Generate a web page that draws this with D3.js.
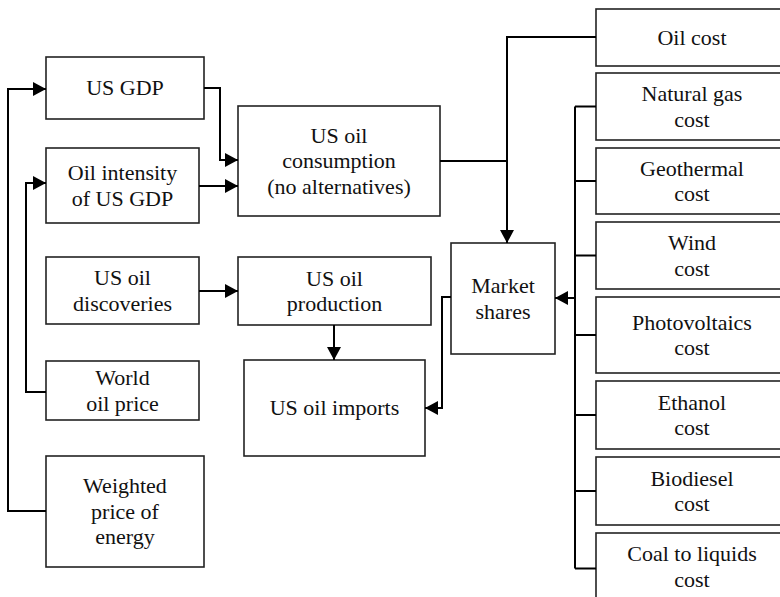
<!DOCTYPE html>
<html>
<head>
<meta charset="utf-8">
<script src="https://cdn.jsdelivr.net/npm/d3@7"></script>
<style>
    body { margin: 0; background: #fff; }
    svg { display: block; }
    text { font-family: "Liberation Serif", "Times New Roman", serif; font-size: 22px; fill: #111; }
</style>
</head>
<body>
<div id="chart"></div>
<script>
// node labels (one entry per text line)
const driverIds = ['gdp', 'intensity', 'discoveries', 'worldPrice', 'weighted'];
const driverLabels = [
    ['US GDP'],
    ['Oil intensity', 'of US GDP'],
    ['US oil', 'discoveries'],
    ['World', 'oil price'],
    ['Weighted', 'price of', 'energy']
];
const outcomeIds = ['consumption', 'production', 'imports', 'market'];
const outcomeLabels = [
    ['US oil', 'consumption', '(no alternatives)'],
    ['US oil', 'production'],
    ['US oil imports'],
    ['Market', 'shares']
];
const costIds = ['oil', 'gas', 'geo', 'wind', 'pv', 'ethanol', 'biodiesel', 'ctl'];
const costLabels = [
    ['Oil cost'],
    ['Natural gas', 'cost'],
    ['Geothermal', 'cost'],
    ['Wind', 'cost'],
    ['Photovoltaics', 'cost'],
    ['Ethanol', 'cost'],
    ['Biodiesel', 'cost'],
    ['Coal to liquids', 'cost']
];
// source -> target
const links = [
    ['weighted', 'gdp'],
    ['worldPrice', 'intensity'],
    ['gdp', 'consumption'],
    ['intensity', 'consumption'],
    ['consumption', 'market'],
    ['oil', 'market'],
    ['discoveries', 'production'],
    ['production', 'imports'],
    ['market', 'imports']
];

class FlowChart {

    constructor(opts) {
        this.element = opts.element;
        this.width = 780;
        this.height = 597;
        this.draw();
    }

    draw() {
        this.element.innerHTML = '';
        this.svg = d3.select(this.element).append('svg')
            .attr('width', this.width)
            .attr('height', this.height);

        const defs = this.svg.append('defs');
        defs.append('marker')
            .attr('id', 'head')
            .attr('viewBox', '0 0 13 14')
            .attr('refX', 13)
            .attr('refY', 7)
            .attr('markerWidth', 13)
            .attr('markerHeight', 14)
            .attr('markerUnits', 'userSpaceOnUse')
            .attr('orient', 'auto')
            .append('path')
            .attr('d', 'M0,0L13,7L0,14Z')
            .attr('fill', '#000');

        this.buildLayout();
        this.addBoxes();
        this.addLinks();
    }

    buildLayout() {
        // box geometry [x0, y0, x1, y1]
        const left = [[46, 57, 204, 119], [46, 148, 199, 223], [46, 257, 199, 324], [46, 361, 199, 420], [46, 456, 204, 567]];
        const mid = [[238, 106, 440, 216], [238, 257, 431, 325], [244, 360, 425, 456], [451, 243, 555, 354]];
        const right = [[9, 66], [73, 140], [148, 214], [222, 289], [297, 373], [381, 449], [457, 525], [533, 604]];

        this.boxes = {};
        this.nodes = [];
        driverIds.forEach((id, i) => {
            this.boxes[id] = left[i];
            this.nodes.push({ id, lines: driverLabels[i] });
        });
        outcomeIds.forEach((id, i) => {
            this.boxes[id] = mid[i];
            this.nodes.push({ id, lines: outcomeLabels[i] });
        });
        costIds.forEach((id, i) => {
            this.boxes[id] = [596, right[i][0], 788, right[i][1]];
            this.nodes.push({ id, lines: costLabels[i] });
        });
    }

    addBoxes() {
        const lh = 25.5;
        const g = this.svg.selectAll('.node')
            .data(this.nodes)
            .enter()
            .append('g')
            .attr('class', 'node');

        g.append('rect')
            .attr('x', d => this.boxes[d.id][0])
            .attr('y', d => this.boxes[d.id][1])
            .attr('width', d => this.boxes[d.id][2] - this.boxes[d.id][0])
            .attr('height', d => this.boxes[d.id][3] - this.boxes[d.id][1])
            .attr('fill', '#fff')
            .attr('stroke', '#222')
            .attr('stroke-width', 1.6);

        g.each((d, i, nodes) => {
            const b = this.boxes[d.id];
            const cx = (b[0] + b[2]) / 2;
            const cy = (Math.min(b[3], 600) + b[1]) / 2;
            const top = cy - (d.lines.length - 1) * lh / 2;
            d3.select(nodes[i]).append('text')
                .attr('text-anchor', 'middle')
                .selectAll('tspan')
                .data(d.lines)
                .enter()
                .append('tspan')
                .attr('x', cx)
                .attr('y', (t, j) => top + j * lh)
                .attr('dy', '0.33em')
                .text(t => t);
        });
    }

    addLinks() {
        const b = this.boxes;
        const midY = id => (b[id][1] + b[id][3]) / 2;
        const line = d3.line();
        // elbow routes for each link
        const routes = {
            'weighted-gdp': [[b.weighted[0], 511], [8, 511], [8, 89], [b.gdp[0], 89]],
            'worldPrice-intensity': [[b.worldPrice[0], 392], [26, 392], [26, 183], [b.intensity[0], 183]],
            'gdp-consumption': [[b.gdp[2], 88], [220, 88], [220, 160], [b.consumption[0], 160]],
            'intensity-consumption': [[b.intensity[2], 186], [b.consumption[0], 186]],
            'consumption-market': [[b.consumption[2], 161], [507, 161]],
            'oil-market': [[b.oil[0], 37], [507, 37], [507, b.market[1]]],
            'discoveries-production': [[b.discoveries[2], 291], [b.production[0], 291]],
            'production-imports': [[334, b.production[3]], [334, b.imports[1]]],
            'market-imports': [[b.market[0], 297], [442, 297], [442, 408], [b.imports[2], 408]]
        };
        const arrowed = new Set(links.map(l => l.join('-')).filter(k => k !== 'consumption-market'));

        this.svg.selectAll('.link')
            .data(links)
            .enter()
            .append('path')
            .attr('class', 'link')
            .attr('d', l => line(routes[l.join('-')]))
            .attr('fill', 'none')
            .attr('stroke', '#000')
            .attr('stroke-width', 2)
            .attr('marker-end', l => arrowed.has(l.join('-')) ? 'url(#head)' : null);

        // bus collecting the alternative energy costs into market shares
        const busX = 575;
        const busIds = costIds.slice(1);
        this.svg.append('path')
            .attr('d', line([[busX, midY(busIds[0])], [busX, midY(busIds[busIds.length - 1])]]))
            .attr('stroke', '#000')
            .attr('stroke-width', 2);
        this.svg.selectAll('.tick')
            .data(busIds)
            .enter()
            .append('path')
            .attr('d', id => line([[busX, midY(id)], [b[id][0], midY(id)]]))
            .attr('stroke', '#000')
            .attr('stroke-width', 2);
        this.svg.append('path')
            .attr('d', line([[busX, 298], [b.market[2], 298]]))
            .attr('stroke', '#000')
            .attr('stroke-width', 2)
            .attr('marker-end', 'url(#head)');
    }
}

new FlowChart({ element: document.getElementById('chart') });
</script>
</body>
</html>
